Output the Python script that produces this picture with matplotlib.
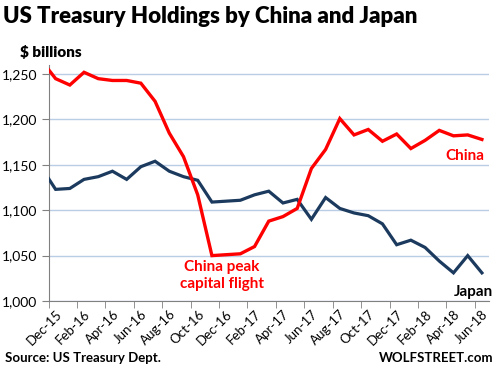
import matplotlib
matplotlib.use("Agg")
import matplotlib.pyplot as plt

# monthly holdings, $ billions (Nov-15 is only partly visible at the left edge)
months = ["Nov-15", "Dec-15", "Jan-16", "Feb-16", "Mar-16", "Apr-16", "May-16", "Jun-16",
          "Jul-16", "Aug-16", "Sep-16", "Oct-16", "Nov-16", "Dec-16", "Jan-17", "Feb-17",
          "Mar-17", "Apr-17", "May-17", "Jun-17", "Jul-17", "Aug-17", "Sep-17", "Oct-17",
          "Nov-17", "Dec-17", "Jan-18", "Feb-18", "Mar-18", "Apr-18", "May-18", "Jun-18"]
china = [1265, 1245, 1238, 1252, 1245, 1243, 1243, 1240, 1220, 1185, 1159, 1117,
         1050, 1051, 1052, 1060, 1088, 1093, 1102, 1146, 1167, 1201, 1183, 1189,
         1176, 1184, 1168, 1177, 1188, 1182, 1183, 1178]
japan = [1147, 1123, 1124, 1134, 1137, 1143, 1134, 1148, 1154, 1143, 1137, 1133,
         1109, 1110, 1111, 1117, 1121, 1108, 1112, 1090, 1114, 1102, 1097, 1094,
         1085, 1062, 1067, 1059, 1044, 1031, 1050, 1031]
tick_labels = months[1::2]

plt.rcParams["font.family"] = ["Lato", "DejaVu Sans"]

fig = plt.figure(figsize=(4.99, 3.76), dpi=100)
ax = fig.add_axes([0.0972, 0.1995, 0.8828, 0.6275])

x = list(range(-1, len(months) - 1))
ax.plot(x, japan, color="#1B3A5E", lw=2.3, solid_joinstyle="miter", zorder=3)
ax.plot(x, china, color="#FF0000", lw=2.4, solid_joinstyle="miter", zorder=4)

ax.set_xlim(-0.5, 30.5)
ax.set_ylim(1000, 1260)
ax.set_yticks(range(1000, 1251, 50))
ax.set_yticklabels([f"{v:,}" for v in range(1000, 1251, 50)], fontsize=10)
ax.yaxis.grid(True, color="#B9CDE5", lw=1)
ax.set_axisbelow(True)

# labels at month centres, tick marks at the boundaries
ax.set_xticks(range(0, 31, 2))
ax.set_xticklabels(tick_labels, rotation=45, ha="right", rotation_mode="anchor", fontsize=9.5)
ax.tick_params(axis="x", which="major", length=0, pad=5)
ax.set_xticks([i - 0.5 for i in range(0, 31, 2)], minor=True)
ax.tick_params(axis="x", which="minor", length=5, color="#808080")
ax.tick_params(axis="y", length=5, color="#808080", pad=3)

for s in ["top", "right"]:
    ax.spines[s].set_visible(False)
for s in ["left", "bottom"]:
    ax.spines[s].set_color("#808080")

fig.text(0.006, 0.955, "US Treasury Holdings by China and Japan", fontsize=16,
         fontweight="heavy", va="center")
fig.text(0.04, 0.862, "$ billions", fontsize=11, fontweight="heavy", va="center")
fig.text(0.01, 0.048, "Source: US Treasury Dept.", fontsize=9.5, fontweight="bold", va="center")
fig.text(0.988, 0.048, "WOLFSTREET.com", fontsize=9.5, fontweight="bold", va="center", ha="right")

ax.text(11.7, 1028, "China peak\ncapital flight", color="#FF0000", fontsize=11,
        fontweight="bold", ha="center", va="center", linespacing=1.25)
ax.text(30.2, 1160, "China", color="#FF0000", fontsize=11, fontweight="bold", ha="right", va="center")
ax.text(30.8, 1010, "Japan", color="black", fontsize=11, fontweight="bold", ha="right", va="center")

fig.savefig("out.png", dpi=100)
